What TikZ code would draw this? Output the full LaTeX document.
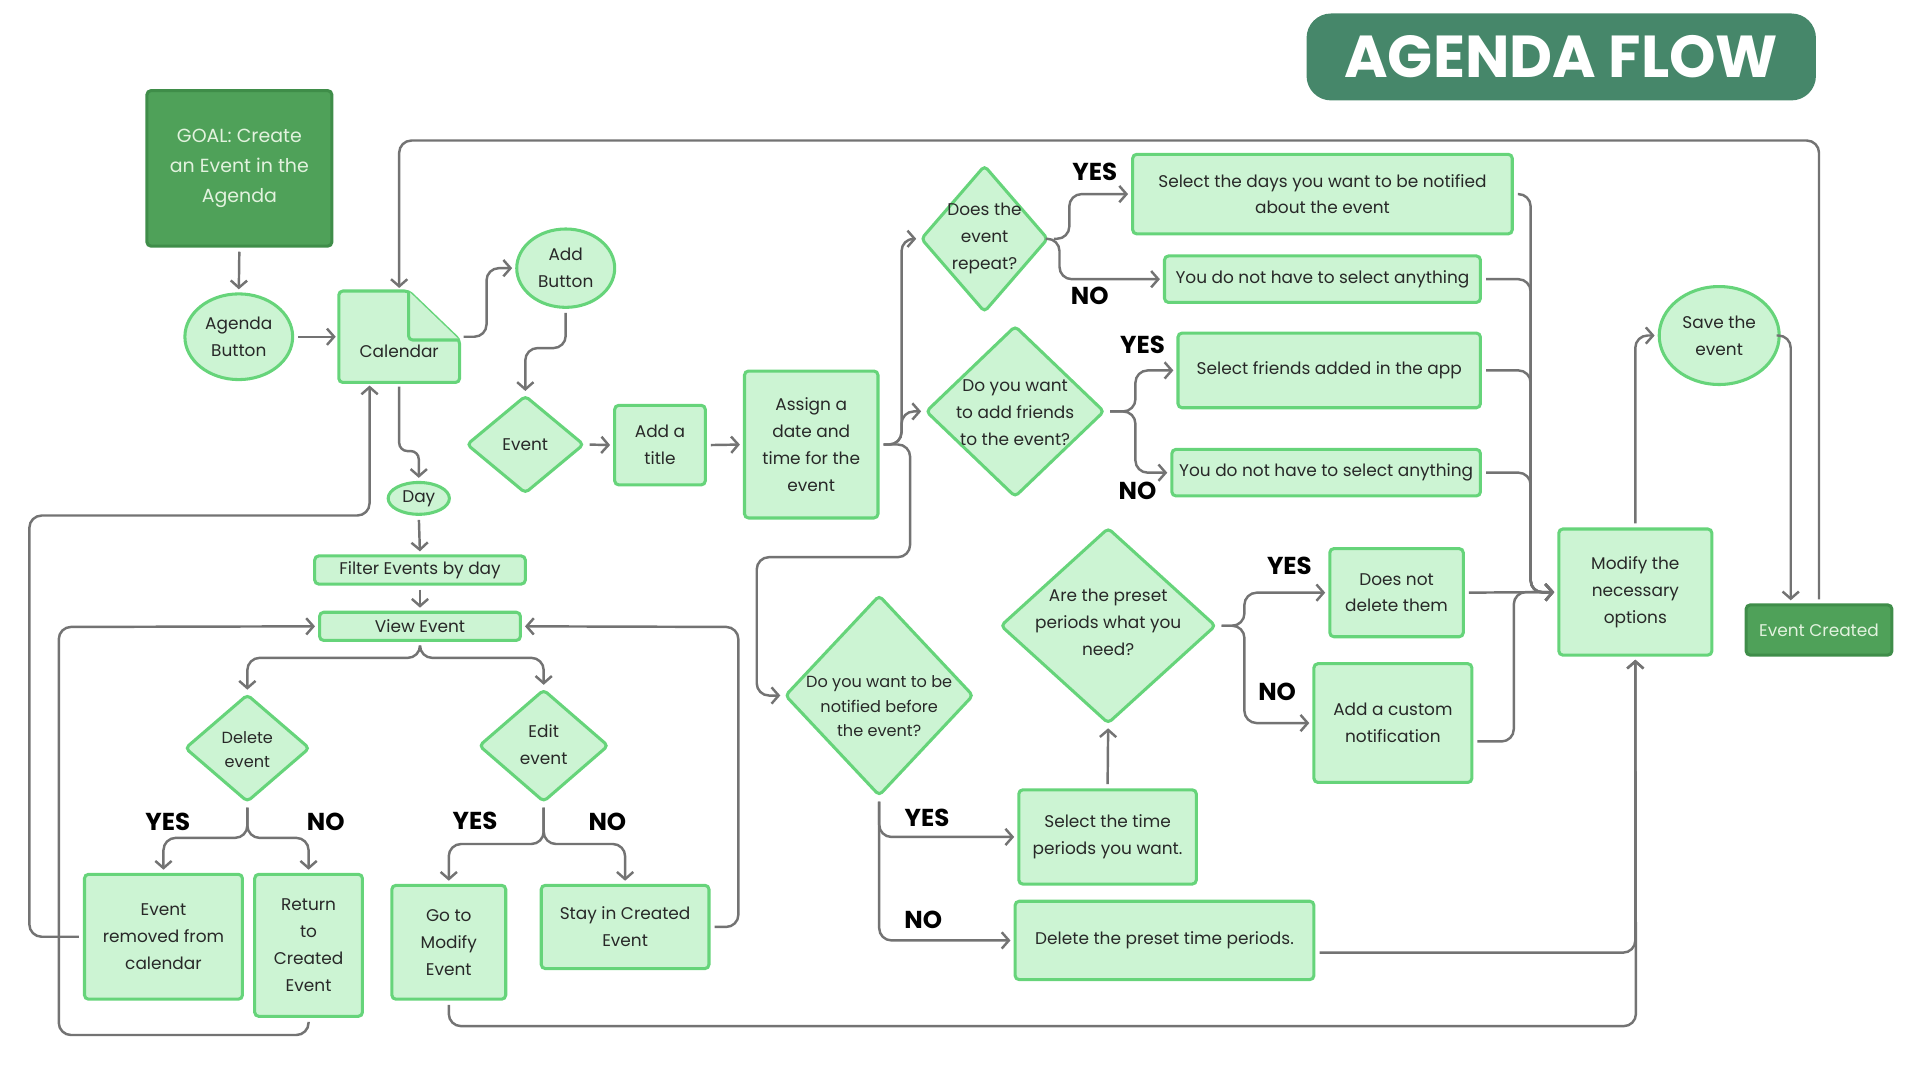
\documentclass[tikz,border=0pt]{standalone}
\usepackage{fontspec}
\setmainfont{Poppins}
\usetikzlibrary{arrows.meta,shapes.geometric,calc}

\definecolor{nodefill}{RGB}{204,244,211}
\definecolor{nodeline}{RGB}{102,212,122}
\definecolor{linkgray}{RGB}{115,115,115}
\definecolor{darkfill}{RGB}{79,161,89}
\definecolor{darkline}{RGB}{63,141,73}
\definecolor{headfill}{RGB}{70,135,106}
\definecolor{inktext}{RGB}{40,40,40}
\definecolor{paletext}{RGB}{226,242,222}

\newcommand\bodyfont{\fontsize{8.3}{13.2}\selectfont}
\newcommand\smallbody{\fontsize{7.9}{12}\selectfont}
\newcommand\goalfont{\fontsize{9.3}{14.7}\selectfont}
\newcommand\ansfont{\fontsize{12}{14}\selectfont\bfseries}
\newcommand\headfont{\fontsize{29}{34}\selectfont\bfseries}

\tikzset{
  sz/.style 2 args={minimum width=#1*0.6pt, minimum height=#2*0.6pt},
  box/.style={draw=nodeline, fill=nodefill, line width=1.5pt, rounded corners=2pt,
    text=inktext, font=\bodyfont, align=center, inner sep=0pt},
  ell/.style={box, ellipse},
  diam/.style={box, diamond},
  txt/.style={text=inktext, font=\bodyfont, align=center, inner sep=0pt},
  dtxt/.style={txt, font=\smallbody},
  dark/.style={draw=darkline, fill=darkfill, line width=1.5pt, rounded corners=2pt,
    text=paletext, font=\bodyfont, align=center, inner sep=0pt},
  ans/.style={font=\ansfont, text=black, inner sep=0pt},
  flow/.style={draw=linkgray, line width=1.2pt, rounded corners=6pt,
    -{Straight Barb[length=3.5pt,width=8pt]}, shorten <=2pt, shorten >=1.5pt}
}

\begin{document}
\begin{tikzpicture}[x=0.6pt, y=-0.6pt]
    \useasboundingbox (0,0) rectangle (1568,882);

    % title
    \node[fill=headfill, rounded corners=12pt, sz={416}{71}, text=white, font=\headfont] (head) at (1275,46.5) {AGENDA FLOW};

    % start
    \node[dark, sz={151}{127}, font=\goalfont] (goal) at (195.5,137.5) {GOAL: Create\\an Event in the\\Agenda};
    \node[ell, sz={88}{70}] (agenda) at (195,275) {Agenda\\Button};

    % calendar (document shape)
    \node[sz={98}{74}, inner sep=0pt] (cal) at (326,275) {};
    \draw[box] (cal.south west) -- (cal.north west) -- ($(cal.north west)+(57,0)$)
        -- ($(cal.north east)+(0,40)$) -- (cal.south east) -- cycle;
    \draw[box] ($(cal.north west)+(57,0)$) -- ($(cal.north west)+(57,40)$) -- ($(cal.north east)+(0,40)$);
    \node[txt] (cal-t) at (326,287) {Calendar};

    \node[ell, sz={80}{64}] (addb) at (462,219) {Add\\Button};
    \node[diam, sz={96}{80}] (event) at (429,363) {};
    \node[txt] (event-t) at (429,363) {Event};
    \node[box, sz={74}{65}] (title) at (539,363.5) {Add a\\title};
    \node[box, sz={109}{120}] (assign) at (662.5,363) {Assign a\\date and\\time for the\\event};

    % repeat and friends
    \node[diam, sz={104}{120}] (rep) at (804,195) {};
    \node[txt] (rep-t) at (804,195) {Does the\\event\\repeat?};
    \node[diam, sz={146}{140}] (fri) at (829,336) {};
    \node[txt] (fri-t) at (829,337) {Do you want\\to add friends\\to the event?};
    \node[box, sz={310}{65}] (days) at (1080,158.5) {Select the days you want to be notified\\about the event};
    \node[box, sz={258}{38}] (none1) at (1080,228) {You do not have to select anything};
    \node[box, sz={247}{61}] (sfri) at (1085.5,302.5) {Select friends added in the app};
    \node[box, sz={252}{38}] (none2) at (1083,386) {You do not have to select anything};

    % notifications
    \node[diam, sz={154}{164}] (notif) at (718,568) {};
    \node[dtxt] (notif-t) at (718,577) {Do you want to be\\notified before\\the event?};
    \node[diam, sz={176}{160}] (pre) at (905,511) {};
    \node[txt] (pre-t) at (905,508) {Are the preset\\periods what you\\need?};
    \node[box, sz={145}{77}] (stime) at (904.5,683.5) {Select the time\\periods you want.};
    \node[box, sz={244}{64}] (dpre) at (951,768) {Delete the preset time periods.};
    \node[box, sz={109}{72}] (keep) at (1140.5,484) {Does not\\delete them};
    \node[box, sz={129}{97}] (cust) at (1137.5,590.5) {Add a custom\\notification};

    % end
    \node[box, sz={125}{103}] (mod) at (1335.5,483.5) {Modify the\\necessary\\options};
    \node[ell, sz={98}{80}] (save) at (1404,274) {Save the\\event};
    \node[dark, sz={119}{41}] (created) at (1485.5,514.5) {Event Created};

    % view by day
    \node[ell, sz={50}{26}] (day) at (342,407) {Day};
    \node[box, sz={172}{23}] (filt) at (343,465.5) {Filter Events by day};
    \node[box, sz={164}{23}] (view) at (343,511.5) {View Event};
    \node[diam, sz={102}{88}] (del) at (202,611) {};
    \node[dtxt] (del-t) at (202,612) {Delete\\event};
    \node[diam, sz={106}{92}] (edit) at (444,609) {};
    \node[txt] (edit-t) at (444,608) {Edit\\event};
    \node[box, sz={129}{102}] (rem) at (133.5,765) {Event\\removed from\\calendar};
    \node[box, sz={88}{116}] (ret) at (252,772) {Return\\to\\Created\\Event};
    \node[box, sz={93}{93}] (go) at (366.5,769.5) {Go to\\Modify\\Event};
    \node[box, sz={137}{68}] (stay) at (510.5,757) {Stay in Created\\Event};

    % answers
    \node[ans] (del-yes) at (137,671) {YES};
    \node[ans] (del-no) at (266,671) {NO};
    \node[ans] (edit-yes) at (388,670) {YES};
    \node[ans] (edit-no) at (496,671) {NO};
    \node[ans] (rep-yes) at (894,140) {YES};
    \node[ans] (rep-no) at (890,242) {NO};
    \node[ans] (fri-yes) at (933,282) {YES};
    \node[ans] (fri-no) at (929,401) {NO};
    \node[ans] (notif-yes) at (757,668) {YES};
    \node[ans] (notif-no) at (754,751) {NO};
    \node[ans] (pre-yes) at (1053,462) {YES};
    \node[ans] (pre-no) at (1043,565) {NO};

    % connectors: creation path
    \draw[flow] (goal.south) -- (agenda.north);
    \draw[flow] (agenda.east) -- (cal.west);
    \draw[flow] (cal.east) -- ++(22,0) |- (addb.west);
    \draw[flow] (addb.south) -- ++(0,32) -| (event.north);
    \draw[flow] (event.east) -- (title.west);
    \draw[flow] (title.east) -- (assign.west);
    \draw[flow] (assign.east) -- ++(18,0) |- (rep.west);
    \draw[flow] (assign.east) -- ++(18,0) |- (fri.west);
    \draw[flow] (assign.east) -- ++(25,0) |- (618,455) |- (notif.west);
    \draw[flow] (rep.east) -- ++(16,0) |- (days.west);
    \draw[flow] (rep.east) -- ++(8,0) |- (none1.west);
    \draw[flow] (fri.east) -- ++(24,0) |- (sfri.west);
    \draw[flow] (fri.east) -- ++(24,0) |- (none2.west);
    \draw[flow] (days.east) -| (1250,484) -- (mod.west);
    \draw[flow] (none1.east) -| (1250,484) -- (mod.west);
    \draw[flow] (sfri.east) -| (1250,484) -- (mod.west);
    \draw[flow] (none2.east) -| (1250,484) -- (mod.west);
    \draw[flow] (notif.south) |- (stime.west);
    \draw[flow] (notif.south) |- (dpre.west);
    \draw[flow] (stime.north) -- (pre.south);
    \draw[flow] (pre.east) -- ++(22,0) |- (keep.west);
    \draw[flow] (pre.east) -- ++(22,0) |- (cust.west);
    \draw[flow] (keep.east) -- (mod.west);
    \draw[flow] ([yshift=-9pt]cust.east) -- ++(33,0) |- (mod.west);
    \draw[flow] ([yshift=-6pt]dpre.east) -| (mod.south);
    \draw[flow] (mod.north) |- (save.west);
    \draw[flow] (save.east) -| ($(created.north west)!0.31!(created.north east)$);
    \draw[flow] (created.north) -- ++(0,-378) -| (cal.north);

    % connectors: viewing path
    \draw[flow, rounded corners=4pt] (cal.south) -- ++(0,56) -| (day.north);
    \draw[flow] (day.south) -- (filt.north);
    \draw[flow] (filt.south) -- (view.north);
    \draw[flow] (view.south) -- ++(0,13) -| (del.north);
    \draw[flow] (view.south) -- ++(0,13) -| (edit.north);
    \draw[flow] (del.south) -- ++(0,28) -| (rem.north);
    \draw[flow] (del.south) -- ++(0,28) -| (ret.north);
    \draw[flow] (edit.south) -- ++(0,33) -| (go.north);
    \draw[flow] (edit.south) -- ++(0,33) -| (stay.north);
    \draw[flow] (rem.west) -| (24,421) -| ($(cal.south west)!0.255!(cal.south east)$);
    \draw[flow] (ret.south) -- ++(0,14) -| (48,512) -- (view.west);
    \draw[flow] (stay.east) -| (603,512) -- (view.east);
    \draw[flow] (go.south) |- (1336,838) -- (mod.south);
\end{tikzpicture}
\end{document}
